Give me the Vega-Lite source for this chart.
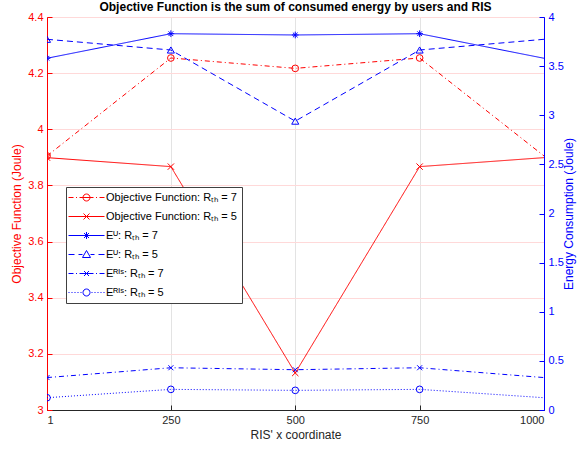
{
  "$schema": "https://vega.github.io/schema/vega-lite/v6.json",
  "width": 497,
  "height": 393,
  "autosize": "none",
  "padding": {"left": 47, "top": 17, "right": 40, "bottom": 40},
  "title": {"text": "Objective Function is the sum of consumed energy by users and RIS", "font": "Liberation Sans", "fontSize": 12, "fontWeight": "bold", "color": "#000000", "offset": -3, "frame": "group"},
  "config": {
    "view": {"stroke": "#262626", "strokeWidth": 1},
    "axis": {"labelFont": "Liberation Sans", "titleFont": "Liberation Sans", "labelFontSize": 11, "titleFontSize": 12, "titleFontWeight": "normal", "labelColor": "#262626", "titleColor": "#262626", "domainColor": "#262626", "tickColor": "#262626", "gridColor": "#e3e3e3", "tickSize": -5, "labelPadding": 9, "domainWidth": 1},
    "legend": {
      "orient": "none", "legendX": 19, "legendY": 170, "title": null,
      "fillColor": "#ffffff", "strokeColor": "#404040", "padding": 5,
      "symbolSize": 100, "symbolOffset": 10, "labelOffset": 14, "rowPadding": 7, "symbolStrokeWidth": 1,
      "labelFont": "Liberation Sans", "labelFontSize": 11, "labelColor": "#000000", "labelLimit": 0
    }
  },
  "data": {"values": [
    {"x": 1, "v": 3.905, "s": "a", "m": "pa", "ax": "L"},
    {"x": 250, "v": 4.254, "s": "a", "m": "pa", "ax": "L"},
    {"x": 500, "v": 4.217, "s": "a", "m": "pa", "ax": "L"},
    {"x": 750, "v": 4.254, "s": "a", "m": "pa", "ax": "L"},
    {"x": 1000, "v": 3.905, "s": "a", "m": "pa", "ax": "L"},
    {"x": 1, "v": 3.899, "s": "b", "m": "pb", "ax": "L"},
    {"x": 250, "v": 3.867, "s": "b", "m": "pb", "ax": "L"},
    {"x": 500, "v": 3.132, "s": "b", "m": "pb", "ax": "L"},
    {"x": 750, "v": 3.867, "s": "b", "m": "pb", "ax": "L"},
    {"x": 1000, "v": 3.899, "s": "b", "m": "pb", "ax": "L"},
    {"x": 1, "v": 3.58, "s": "c", "m": "pc", "ax": "R"},
    {"x": 250, "v": 3.83, "s": "c", "m": "pc", "ax": "R"},
    {"x": 500, "v": 3.817, "s": "c", "m": "pc", "ax": "R"},
    {"x": 750, "v": 3.83, "s": "c", "m": "pc", "ax": "R"},
    {"x": 1000, "v": 3.58, "s": "c", "m": "pc", "ax": "R"},
    {"x": 1, "v": 3.773, "s": "d", "m": "pd", "ax": "R"},
    {"x": 250, "v": 3.664, "s": "d", "m": "pd", "ax": "R"},
    {"x": 500, "v": 2.94, "s": "d", "m": "pd", "ax": "R"},
    {"x": 750, "v": 3.664, "s": "d", "m": "pd", "ax": "R"},
    {"x": 1000, "v": 3.773, "s": "d", "m": "pd", "ax": "R"},
    {"x": 1, "v": 0.33, "s": "e", "m": "pe", "ax": "R"},
    {"x": 250, "v": 0.43, "s": "e", "m": "pe", "ax": "R"},
    {"x": 500, "v": 0.41, "s": "e", "m": "pe", "ax": "R"},
    {"x": 750, "v": 0.43, "s": "e", "m": "pe", "ax": "R"},
    {"x": 1000, "v": 0.33, "s": "e", "m": "pe", "ax": "R"},
    {"x": 1, "v": 0.125, "s": "f", "m": "pf", "ax": "R"},
    {"x": 250, "v": 0.21, "s": "f", "m": "pf", "ax": "R"},
    {"x": 500, "v": 0.2, "s": "f", "m": "pf", "ax": "R"},
    {"x": 750, "v": 0.21, "s": "f", "m": "pf", "ax": "R"},
    {"x": 1000, "v": 0.125, "s": "f", "m": "pf", "ax": "R"}
  ]},
  "encoding": {
    "x": {"field": "x", "type": "quantitative", "scale": {"domain": [1, 1000], "nice": false, "zero": false},
      "axis": {"values": [1, 250, 500, 750, 1000], "format": "d", "title": "RIS' x coordinate", "grid": true, "titlePadding": 4}},
    "color": {"field": "s", "type": "nominal",
      "scale": {"domain": ["a", "b", "c", "d", "e", "f"], "range": ["#ff0000", "#ff0000", "#0000ff", "#0000ff", "#0000ff", "#0000ff"]},
      "legend": {
        "labelExpr": "datum.value == 'a' ? 'Objective Function: Rₜₕ = 7' : datum.value == 'b' ? 'Objective Function: Rₜₕ = 5' : datum.value == 'c' ? 'Eᵁ: Rₜₕ = 7' : datum.value == 'd' ? 'Eᵁ: Rₜₕ = 5' : datum.value == 'e' ? 'Eᴿᴵˢ: Rₜₕ = 7' : 'Eᴿᴵˢ: Rₜₕ = 5'"
      }}
  },
  "layer": [
    {
      "transform": [{"filter": "datum.ax === 'L'"}],
      "encoding": {
        "y": {"field": "v", "type": "quantitative", "scale": {"domain": [3, 4.4], "nice": false, "zero": false},
          "axis": {"orient": "left", "title": "Objective Function (Joule)", "values": [3, 3.2, 3.4, 3.6, 3.8, 4, 4.2, 4.4], "format": "~g", "grid": true, "gridColor": "#ffd9d9", "domainColor": "#ff0000", "tickColor": "#ff0000", "labelColor": "#ff0000", "titleColor": "#ff0000", "titlePadding": 4}}
      },
      "layer": [
        {"mark": {"type": "line", "strokeWidth": 1, "clip": true},
          "encoding": {"strokeDash": {"field": "m", "type": "nominal", "legend": null, "scale": {"domain": ["pa", "pb", "pc", "pd", "pe", "pf"], "range": [[5, 3, 1, 3], [1, 0], [1, 0], [6, 4], [5, 3, 1, 3], [1, 2]]}}}},
        {"transform": [{"filter": "datum.x < 1000 && datum.s === 'a'"}],
          "mark": {"type": "point", "shape": "circle", "filled": false, "strokeWidth": 1, "size": 45, "opacity": 1, "clip": true}},
        {"transform": [{"filter": "datum.x < 1000 && datum.s === 'b'"}],
          "mark": {"type": "point", "shape": "M-1,-1L1,1M-1,1L1,-1", "filled": false, "strokeWidth": 1, "size": 40, "opacity": 1, "clip": true}},
        {"transform": [{"filter": "datum.x < 0"}],
          "mark": {"type": "point", "filled": false, "strokeWidth": 1, "size": 100, "opacity": 1, "clip": true},
          "encoding": {"shape": {"field": "s", "type": "nominal",
            "scale": {"domain": ["a", "b", "c", "d", "e", "f"],
              "range": [
                "M-3.6,0H-2.6M-2.1,0H-1.9M-1.4,0H1.4M1.9,0H2.1M2.6,0H3.6M0.7,0A0.7,0.7,0,1,1,-0.7,0A0.7,0.7,0,1,1,0.7,0",
                "M-3.6,0H3.6M-0.6,-0.6L0.6,0.6M-0.6,0.6L0.6,-0.6",
                "M-3.6,0H3.6M0,-0.7V0.7M-0.5,-0.5L0.5,0.5M-0.5,0.5L0.5,-0.5",
                "M-3.6,0H-2.4M-1.6,0H-0.8M0.8,0H1.6M2.4,0H3.6M0,-0.8L0.8,0.6L-0.8,0.6Z",
                "M-3.6,0H-2.6M-2.1,0H-1.9M-1.4,0H1.4M1.9,0H2.1M2.6,0H3.6M-0.5,-0.5L0.5,0.5M-0.5,0.5L0.5,-0.5",
                "M-3.6,0H-3.4M-3,0H-2.8M-2.4,0H-2.2M-1.8,0H-1.6M-1.2,0H-1M1,0H1.2M1.6,0H1.8M2.2,0H2.4M2.8,0H3M3.4,0H3.6M0.7,0A0.7,0.7,0,1,1,-0.7,0A0.7,0.7,0,1,1,0.7,0"
              ]},
            "legend": {
              "labelExpr": "datum.value == 'a' ? 'Objective Function: Rₜₕ = 7' : datum.value == 'b' ? 'Objective Function: Rₜₕ = 5' : datum.value == 'c' ? 'Eᵁ: Rₜₕ = 7' : datum.value == 'd' ? 'Eᵁ: Rₜₕ = 5' : datum.value == 'e' ? 'Eᴿᴵˢ: Rₜₕ = 7' : 'Eᴿᴵˢ: Rₜₕ = 5'"
            }}}}
      ]
    },
    {
      "transform": [{"filter": "datum.ax === 'R'"}],
      "encoding": {
        "y": {"field": "v", "type": "quantitative", "scale": {"domain": [0, 4], "nice": false, "zero": false},
          "axis": {"orient": "right", "title": "Energy Consumption (Joule)", "titleAngle": -90, "titleBaseline": "top", "values": [0, 0.5, 1, 1.5, 2, 2.5, 3, 3.5, 4], "format": "~g", "grid": false, "domainColor": "#0000ff", "tickColor": "#0000ff", "labelColor": "#0000ff", "titleColor": "#0000ff", "titlePadding": 0}}
      },
      "layer": [
        {"mark": {"type": "line", "strokeWidth": 1, "clip": true},
          "encoding": {"strokeDash": {"field": "m", "type": "nominal", "legend": null}}},
        {"transform": [{"filter": "datum.x < 1000 && datum.s === 'c'"}],
          "mark": {"type": "point", "shape": "M0,-1V1M-1,0H1M-0.7,-0.7L0.7,0.7M-0.7,0.7L0.7,-0.7", "filled": false, "strokeWidth": 1, "size": 45, "opacity": 1, "clip": true}},
        {"transform": [{"filter": "datum.x < 1000 && datum.s === 'd'"}],
          "mark": {"type": "point", "shape": "triangle-up", "filled": false, "strokeWidth": 1, "size": 50, "opacity": 1, "clip": true}},
        {"transform": [{"filter": "datum.x < 1000 && datum.s === 'e'"}],
          "mark": {"type": "point", "shape": "M-1,-1L1,1M-1,1L1,-1", "filled": false, "strokeWidth": 1, "size": 25, "opacity": 1, "clip": true}},
        {"transform": [{"filter": "datum.x < 1000 && datum.s === 'f'"}],
          "mark": {"type": "point", "shape": "circle", "filled": false, "strokeWidth": 1, "size": 45, "opacity": 1, "clip": true}}
      ]
    }
  ],
  "resolve": {"scale": {"y": "independent"}}
}
